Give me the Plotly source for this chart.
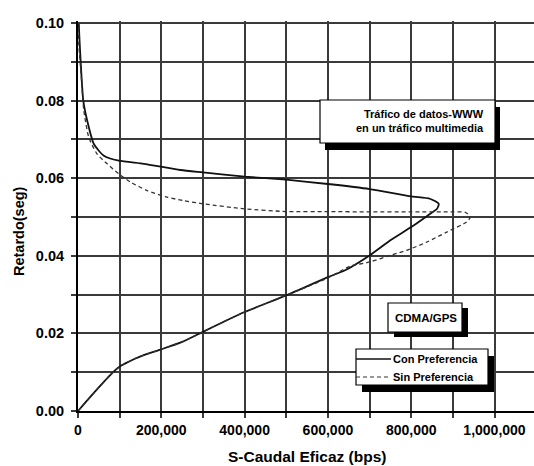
import plotly.graph_objects as go

# ---- data ----
con_x = [0, 30000, 62000, 76000, 90000, 104000, 118000, 135000, 158000, 200000, 250000, 300000,
         350000, 400000, 500000, 600000, 640000, 700000, 750000, 800000, 840000, 862000, 866000,
         845000, 800000, 700000, 600000, 500000, 400000, 300000, 246000, 158000, 98000,
         62000, 38000, 26000, 13000, 6500, 3000, 2000]
con_y = [0.0, 0.0037, 0.0075, 0.0091, 0.0106, 0.0117, 0.0125, 0.0134, 0.0144, 0.0159, 0.0178,
         0.0204, 0.0230, 0.0255, 0.0298, 0.0345, 0.0362, 0.0401, 0.0440, 0.0474, 0.0504, 0.0521,
         0.0534, 0.0547, 0.0553, 0.0572, 0.0585, 0.0596, 0.0604, 0.0615, 0.0621, 0.0637, 0.0645,
         0.0658, 0.0688, 0.0731, 0.0797, 0.0898, 0.0970, 0.1000]

sin_x = [0, 30000, 62000, 76000, 90000, 104000, 118000, 135000, 158000, 200000, 250000, 300000,
         350000, 400000, 500000, 600000, 653000, 701000, 749000, 789000, 837000, 885000, 933000,
         942000, 930000, 900000, 800000, 700000, 600000, 500000, 400000, 300000, 254000,
         214000, 166000, 126000, 98000, 70000, 46000, 26000, 14000, 8000, 2000, 1000]
sin_y = [0.0, 0.0037, 0.0075, 0.0091, 0.0106, 0.0117, 0.0125, 0.0134, 0.0144, 0.0159, 0.0178,
         0.0204, 0.0230, 0.0255, 0.0298, 0.0343, 0.0373, 0.0384, 0.0401, 0.0414, 0.0435, 0.0461,
         0.0487, 0.0500, 0.0512, 0.0513, 0.0513, 0.0513, 0.0514, 0.0514, 0.0521, 0.0534, 0.0542,
         0.0551, 0.0568, 0.0590, 0.0611, 0.0637, 0.0662, 0.0705, 0.0774, 0.0860, 0.0945, 0.1000]

series_names = ["Con Preferencia", "Sin Preferencia"]

x_ticks = [i * 100000 for i in range(11)]
x_labels = ["0", "", "200,000", "", "400,000", "", "600,000", "", "800,000", "", "1,000,000"]
y_ticks = [i / 100 for i in range(11)]
y_labels = ["0.00", "", "0.02", "", "0.04", "", "0.06", "", "0.08", "", "0.10"]

# ---- geometry helpers (pixel -> paper) ----
W, H = 534, 466
ML, MR, MT, MB = 78, 0, 21, 55
PW, PH = W - ML - MR, H - MT - MB


def px(xp):
    return (xp - ML) / PW


def py(yp):
    return (H - MB - yp) / PH


FONT = "Liberation Sans, Arial, sans-serif"
GRID = "#3a3a3a"
styles = [dict(color="#111111", width=1.8, dash="solid"),
          dict(color="#333333", width=1.3, dash="4px,3px")]

fig = go.Figure()
fig.add_trace(go.Scatter(x=con_x, y=con_y, mode="lines", name=series_names[0], showlegend=False,
                         line=dict(**styles[0], shape="spline", smoothing=0.6)))
fig.add_trace(go.Scatter(x=sin_x, y=sin_y, mode="lines", name=series_names[1], showlegend=False,
                         line=dict(**styles[1], shape="spline", smoothing=0.6)))

# top gridline at 0.10 (plotly drops the gridline on the plot edge)
shapes = [dict(type="line", xref="paper", yref="y", x0=0, x1=1, y0=y_ticks[-1], y1=y_ticks[-1],
               line=dict(color=GRID, width=1.8), layer="above")]


def box(x0, y0, x1, y1, dx=6, dy=6):
    shapes.append(dict(type="rect", xref="paper", yref="paper",
                       x0=px(x0 + dx), x1=px(x1 + dx), y0=py(y1 + dy), y1=py(y0 + dy),
                       fillcolor="black", line=dict(width=0), layer="above"))
    shapes.append(dict(type="rect", xref="paper", yref="paper",
                       x0=px(x0), x1=px(x1), y0=py(y1), y1=py(y0),
                       fillcolor="white", line=dict(color="black", width=1.2), layer="above"))


box(320, 100, 495, 143, 5, 7)
box(388, 303, 462, 332, 6, 5)
box(356, 349, 488, 385, 6, 7)

annotations = [
    dict(xref="paper", yref="paper", x=px(486), y=py(121.5), xanchor="right", yanchor="middle",
         text="Tráfico de datos-WWW<br>en un tráfico multimedia", align="right", showarrow=False,
         font=dict(family=FONT, size=11, color="black", weight="bold")),
    dict(xref="paper", yref="paper", x=px(425.5), y=py(317.5), xanchor="center", yanchor="middle",
         text="CDMA/GPS", showarrow=False,
         font=dict(family=FONT, size=11.5, color="black", weight="bold")),
    dict(xref="paper", yref="paper", x=px(307), y=py(456), xanchor="center", yanchor="middle",
         text="S-Caudal Eficaz (bps)", showarrow=False,
         font=dict(family=FONT, size=15.5, color="black", weight="bold")),
    dict(xref="paper", yref="paper", x=px(19), y=py(231), xanchor="center", yanchor="middle",
         text="Retardo(seg)", textangle=-90, showarrow=False,
         font=dict(family=FONT, size=14.5, color="black", weight="bold")),
]

# legend drawn by hand inside the shadowed box
for i, (name, st) in enumerate(zip(series_names, styles)):
    yy = 359 + 18 * i
    shapes.append(dict(type="line", xref="paper", yref="paper",
                       x0=px(356), x1=px(391), y0=py(yy), y1=py(yy),
                       line=dict(color=st["color"], width=st["width"] * 0.8, dash=st["dash"]),
                       layer="above"))
    annotations.append(dict(xref="paper", yref="paper", x=px(391), y=py(yy),
                            xanchor="left", yanchor="middle", text=name, showarrow=False,
                            font=dict(family=FONT, size=11, color="black", weight="bold")))

fig.update_layout(
    width=W, height=H,
    margin=dict(l=ML, r=MR, t=MT, b=MB, pad=0),
    paper_bgcolor="white", plot_bgcolor="white",
    shapes=shapes, annotations=annotations,
    showlegend=False,
    xaxis=dict(range=[0, 1094800], tickmode="array", tickvals=x_ticks, ticktext=x_labels,
               showgrid=True, gridcolor=GRID, gridwidth=1.6, zeroline=False,
               showline=True, linecolor="black", linewidth=2,
               ticks="outside", ticklen=5, tickwidth=1.6, tickcolor=GRID,
               tickfont=dict(family=FONT, size=14, color="black", weight="bold")),
    yaxis=dict(range=[0, 0.1005], tickmode="array", tickvals=y_ticks, ticktext=y_labels,
               showgrid=True, gridcolor=GRID, gridwidth=1.6, zeroline=False,
               showline=True, linecolor="black", linewidth=2,
               ticks="outside", ticklen=5, tickwidth=1.6, tickcolor=GRID,
               ticklabelstandoff=4,
               tickfont=dict(family=FONT, size=14.5, color="black", weight="bold")),
)

fig.write_html("out.html")
